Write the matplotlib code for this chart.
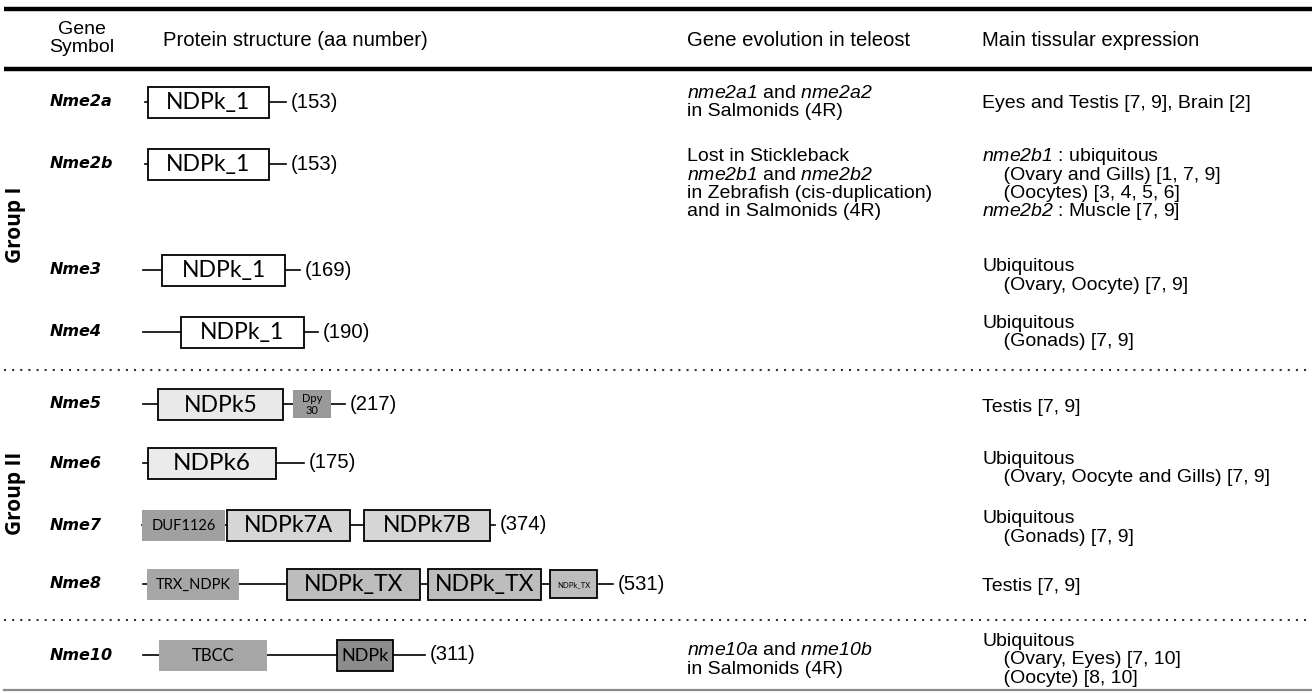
import matplotlib.pyplot as plt
from matplotlib.patches import Rectangle

plt.rcParams['mathtext.fontset'] = 'custom'
plt.rcParams['mathtext.rm'] = 'Liberation Sans:italic'
plt.rcParams['mathtext.it'] = 'Liberation Sans:italic'

# table content
genes = ['Nme2a', 'Nme2b', 'Nme3', 'Nme4', 'Nme5', 'Nme6', 'Nme7', 'Nme8', 'Nme10']
aa_number = [153, 153, 169, 190, 217, 175, 374, 531, 311]

# protein backbone and domains (drawn in the same horizontal units as the figure)
backbone = [(145, 286), (145, 286), (143, 300), (143, 318), (143, 345),
            (143, 304), (142, 495), (143, 613), (143, 425)]
domains = {
    'Nme2a': [(148, 269, 'NDPk_1', 'white', True)],
    'Nme2b': [(148, 269, 'NDPk_1', 'white', True)],
    'Nme3': [(162, 285, 'NDPk_1', 'white', True)],
    'Nme4': [(181, 304, 'NDPk_1', 'white', True)],
    'Nme5': [(158, 283, 'NDPk5', '#e9e9e9', True), (293, 331, 'Dpy\n30', '#9a9a9a', False)],
    'Nme6': [(148, 276, 'NDPk6', '#ebebeb', True)],
    'Nme7': [(142, 225, 'DUF1126', '#a0a0a0', False), (227, 350, 'NDPk7A', '#d6d6d6', True),
             (364, 490, 'NDPk7B', '#d6d6d6', True)],
    'Nme8': [(147, 239, 'TRX_NDPK', '#a6a6a6', False), (287, 420, 'NDPk_TX', '#bdbdbd', True),
             (428, 541, 'NDPk_TX', '#bdbdbd', True), (550, 597, 'NDPk_TX', '#bdbdbd', True)],
    'Nme10': [(159, 267, 'TBCC', '#a6a6a6', False), (337, 393, 'NDPk', '#8c8c8c', True)],
}
label_size = {'NDPk_1': 16.5, 'NDPk5': 16.5, 'NDPk6': 17.5, 'Dpy\n30': 8, 'DUF1126': 10.5,
              'NDPk7A': 16.5, 'NDPk7B': 16.5, 'TRX_NDPK': 10.5, 'NDPk_TX': 16.5, 'TBCC': 12, 'NDPk': 13}

evolution = {
    'Nme2a': [r'$nme2a1$ and $nme2a2$', 'in Salmonids (4R)'],
    'Nme2b': ['Lost in Stickleback', r'$nme2b1$ and $nme2b2$',
              'in Zebrafish (cis-duplication)', 'and in Salmonids (4R)'],
    'Nme10': [r'$nme10a$ and $nme10b$', 'in Salmonids (4R)'],
}
expression = {
    'Nme2a': ['Eyes and Testis [7, 9], Brain [2]'],
    'Nme2b': [r'$nme2b1$ : ubiquitous', '    (Ovary and Gills) [1, 7, 9]',
              '    (Oocytes) [3, 4, 5, 6]', r'$nme2b2$ : Muscle [7, 9]'],
    'Nme3': ['Ubiquitous', '    (Ovary, Oocyte) [7, 9]'],
    'Nme4': ['Ubiquitous', '    (Gonads) [7, 9]'],
    'Nme5': ['Testis [7, 9]'],
    'Nme6': ['Ubiquitous', '    (Ovary, Oocyte and Gills) [7, 9]'],
    'Nme7': ['Ubiquitous', '    (Gonads) [7, 9]'],
    'Nme8': ['Testis [7, 9]'],
    'Nme10': ['Ubiquitous', '    (Ovary, Eyes) [7, 10]', '    (Oocyte) [8, 10]'],
}

row_y = [102, 164, 270, 332, 404, 463, 525, 584, 655]
evo_top = {'Nme2a': 98, 'Nme2b': 161, 'Nme10': 655}
expr_top = {'Nme2a': 108, 'Nme2b': 161, 'Nme3': 271, 'Nme4': 328, 'Nme5': 412,
            'Nme6': 464, 'Nme7': 523, 'Nme8': 591, 'Nme10': 646}
step = 18.5

fig = plt.figure(figsize=(13.12, 6.93), dpi=100)
ax = fig.add_axes([0, 0, 1, 1])
ax.set_xlim(0, 1312)
ax.set_ylim(693, 0)
ax.axis('off')

arial = 'Liberation Sans'
fs = 14

# rules
ax.plot([4, 1312], [9, 9], color='black', lw=3.2, solid_capstyle='butt')
ax.plot([4, 1312], [69, 69], color='black', lw=3.2, solid_capstyle='butt')
for yy in [370, 620]:
    ax.plot([4, 1312], [yy, yy], color='#333333', lw=1.5, linestyle=(0, (1, 2.9)))
ax.plot([4, 1312], [690, 690], color='#8a8a8a', lw=1.6)

# header
ax.text(82, 29, 'Gene', family=arial, fontsize=fs, ha='center', va='center')
ax.text(82, 48, 'Symbol', family=arial, fontsize=fs, ha='center', va='center')
ax.text(163, 46, 'Protein structure (aa number)', family=arial, fontsize=fs + 0.6, va='baseline')
ax.text(687, 46, 'Gene evolution in teleost', family=arial, fontsize=fs + 0.6, va='baseline')
ax.text(982, 46, 'Main tissular expression', family=arial, fontsize=fs + 0.6, va='baseline')

# group labels
ax.text(16, 225, 'Group I', family='Open Sans', weight='bold', fontsize=15,
        rotation=90, ha='center', va='center')
ax.text(16, 493, 'Group II', family='Open Sans', weight='bold', fontsize=15,
        rotation=90, ha='center', va='center')

for i, g in enumerate(genes):
    y = row_y[i]
    ax.text(50, y, g, family='DejaVu Sans', weight='bold', style='italic',
            fontsize=11.5, va='center', ha='left')
    ax.plot(backbone[i], [y, y], color='black', lw=1.2, zorder=1)
    for x0, x1, lab, fc, edge in domains[g]:
        small = lab == 'Dpy\n30' or (g == 'Nme8' and x0 == 550)
        h = 28 if small else 31
        ax.add_patch(Rectangle((x0, y - h / 2), x1 - x0, h, facecolor=fc,
                               edgecolor='black' if edge else fc,
                               lw=1.3 if edge else 0, zorder=2))
        size = label_size[lab]
        if g == 'Nme8' and x0 == 550:
            size = 5.5
        if lab == 'Dpy\n30':
            top, bottom = lab.split('\n')
            ax.text((x0 + x1) / 2, y - 6, top, family='Lato', fontsize=size,
                    ha='center', va='center', zorder=3)
            ax.text((x0 + x1) / 2, y + 6, bottom, family='Lato', fontsize=size,
                    ha='center', va='center', zorder=3)
        else:
            ax.text((x0 + x1) / 2, y + 1, lab, family='Lato', fontsize=size,
                    ha='center', va='center', zorder=3)
    ax.text(backbone[i][1] + 5, y, '(%d)' % aa_number[i], family=arial, fontsize=fs + 0.6,
            ha='left', va='center')
    if g in evolution:
        for k, line in enumerate(evolution[g]):
            ax.text(687, evo_top[g] + k * step, line, family=arial, fontsize=fs,
                    va='baseline')
    for k, line in enumerate(expression[g]):
        ax.text(982, expr_top[g] + k * step, line, family=arial, fontsize=fs,
                va='baseline')

fig.savefig('out.png', dpi=100)
